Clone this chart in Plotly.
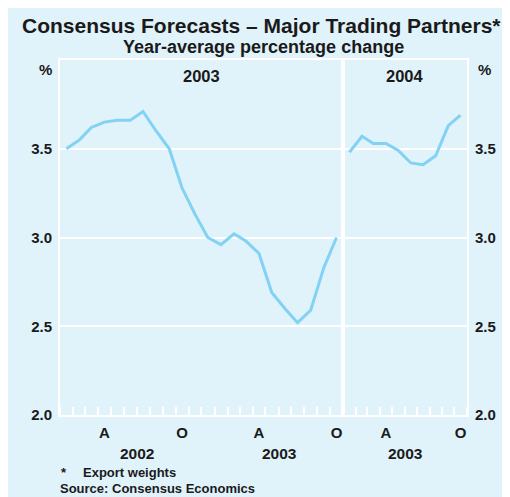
import plotly.graph_objects as go
import pandas as pd

# ---- data ----
months_2003f = ["2002-01", "2002-02", "2002-03", "2002-04", "2002-05", "2002-06",
                "2002-07", "2002-08", "2002-09", "2002-10", "2002-11", "2002-12",
                "2003-01", "2003-02", "2003-03", "2003-04", "2003-05", "2003-06",
                "2003-07", "2003-08", "2003-09", "2003-10"]
forecast_2003 = [3.50, 3.55, 3.62, 3.65, 3.66, 3.66, 3.71, 3.60, 3.50, 3.28,
                 3.13, 3.00, 2.96, 3.02, 2.98, 2.91, 2.69, 2.60, 2.52, 2.59,
                 2.83, 3.00]

months_2004f = ["2003-01", "2003-02", "2003-03", "2003-04", "2003-05",
                "2003-06", "2003-07", "2003-08", "2003-09", "2003-10"]
forecast_2004 = [3.48, 3.57, 3.53, 3.53, 3.49, 3.42, 3.41, 3.46, 3.63, 3.69]

y_ticks = [2.0, 2.5, 3.0, 3.5]
y_ticktext = ["2.0", "2.5", "3.0", "3.5"]
left_ticks = ["2002-04", "2002-10", "2003-04", "2003-10"]
right_ticks = ["2003-04", "2003-10"]
month_letters_left = ["A", "O", "A", "O"]
month_letters_right = ["A", "O"]

# ---- styling ----
BG = "#e0f2fa"
LINE = "#82d2f3"
TXT = "#1a1a1a"
FONT = "Liberation Sans, Arial, sans-serif"
OFF = 8  # page body margin

def mid(m):
    return pd.Timestamp(m + "-01") + pd.Timedelta(days=15)

x_left = [mid(m) for m in months_2003f]
x_right = [mid(m) for m in months_2004f]

fig = go.Figure()
fig.add_trace(go.Scatter(x=x_left, y=forecast_2003, mode="lines",
                         line=dict(color=LINE, width=3), xaxis="x", yaxis="y",
                         showlegend=False, hoverinfo="skip"))
fig.add_trace(go.Scatter(x=x_right, y=forecast_2004, mode="lines",
                         line=dict(color=LINE, width=3), xaxis="x2", yaxis="y2",
                         showlegend=False, hoverinfo="skip"))

W, H = 499, 489
ML, MR, MT, MB = 52, 40, 52, 82
pw = W - ML - MR
ph = H - MT - MB
split = (343.3 - OFF - ML) / pw

def px_x(p):
    return (p - OFF - ML) / pw

def px_y(p):
    return (H - MB - (p - OFF)) / ph

def b(lst):
    return [f"<b>{t}</b>" for t in lst]

tickfont = dict(family=FONT, size=15, color=TXT)
common_x = dict(type="date", showgrid=False, showline=True, mirror=True,
                linecolor="white", linewidth=2, ticks="", zeroline=False,
                tickfont=tickfont, ticklabelstandoff=3,
                minor=dict(ticks="inside", ticklen=8, tickcolor="white",
                           tickwidth=1.5, dtick="M1", showgrid=False))

fig.update_layout(
    width=W, height=H,
    margin=dict(l=ML, r=MR, t=MT, b=MB),
    paper_bgcolor=BG,
    plot_bgcolor=BG,
    xaxis=dict(common_x, domain=[0, split], anchor="y",
               range=[pd.Timestamp("2002-01-01"), pd.Timestamp("2003-11-01")],
               tickvals=[mid(m) for m in left_ticks], ticktext=b(month_letters_left),
               minor=dict(common_x["minor"], tick0="2002-01-01")),
    xaxis2=dict(common_x, domain=[split, 1], anchor="y2",
                range=[pd.Timestamp("2003-01-01"), pd.Timestamp("2003-11-01")],
                tickvals=[mid(m) for m in right_ticks], ticktext=b(month_letters_right),
                minor=dict(common_x["minor"], tick0="2003-01-01")),
    yaxis=dict(range=[2, 4], tickvals=y_ticks, ticktext=b(y_ticktext),
               showgrid=True, gridcolor="white", gridwidth=2,
               showline=True, mirror=True, linecolor="white", linewidth=2,
               ticks="", zeroline=False, tickfont=tickfont,
               ticklabelstandoff=3, anchor="x", side="left"),
    yaxis2=dict(range=[2, 4], tickvals=y_ticks, ticktext=b(y_ticktext),
                showgrid=True, gridcolor="white", gridwidth=2,
                showline=True, mirror=True, linecolor="white", linewidth=2,
                ticks="", zeroline=False, tickfont=tickfont,
                ticklabelstandoff=3, anchor="x2", side="right",
                overlaying="y"),
)

def ann(text, x, y, size, xanchor="center", bold=True):
    fig.add_annotation(text=f"<b>{text}</b>" if bold else text,
                       x=px_x(x), y=px_y(y), xref="paper", yref="paper",
                       xanchor=xanchor, yanchor="middle", showarrow=False,
                       font=dict(family=FONT, size=size, color=TXT))

ann("Consensus Forecasts – Major Trading Partners*", 261, 26, 21)
ann("Year-average percentage change", 263, 47, 18)
ann("%", 45, 70, 15)
ann("%", 484, 70, 15)
ann("2003", 201, 76, 16.5)
ann("2004", 405, 76, 16.5)
ann("2002", 137, 453, 15.5)
ann("2003", 279, 453, 15.5)
ann("2003", 405, 453, 15.5)
ann("*", 59, 472, 13, xanchor="left")
ann("Export weights", 81, 472, 13, xanchor="left")
ann("Source: Consensus Economics", 58, 488, 13, xanchor="left")

fig.write_html("out.html")
